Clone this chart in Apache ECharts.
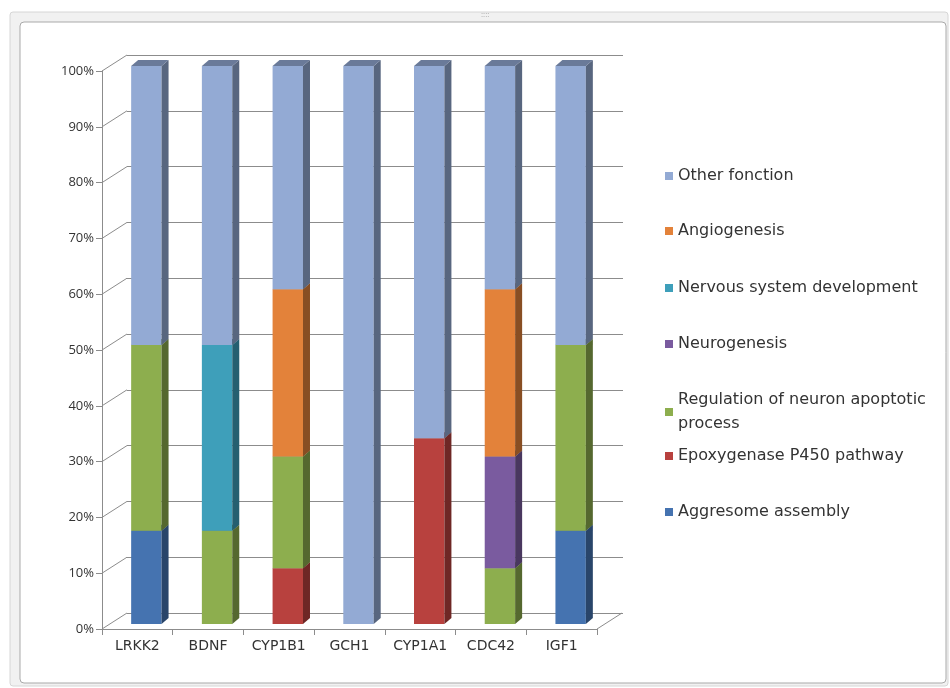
<!DOCTYPE html>
<html>
<head>
<meta charset="utf-8">
<script src="https://cdn.jsdelivr.net/npm/echarts@6/dist/echarts.min.js"></script>
<style>
html, body { margin: 0; background: #fff; }
#chart { width: 950px; height: 688px; }
</style>
</head>
<body>
<div id="chart"></div>
<script>
const genes = ['LRKK2', 'BDNF', 'CYP1B1', 'GCH1', 'CYP1A1', 'CDC42', 'IGF1'];

// percentages per gene, bottom of the stack first
const aggresome = [16.7, 0, 0, 0, 0, 0, 16.7];
const epoxygenase = [0, 0, 10, 0, 33.3, 0, 0];
const regulation = [33.3, 16.7, 20, 0, 0, 10, 33.3];
const neurogenesis = [0, 0, 0, 0, 0, 20, 0];
const nervous = [0, 33.3, 0, 0, 0, 0, 0];
const angiogenesis = [0, 0, 30, 0, 0, 30, 0];
const other = [50, 50, 40, 100, 66.7, 40, 50];

const seriesNames = [
    'Aggresome assembly',
    'Epoxygenase P450 pathway',
    'Regulation of neuron apoptotic process',
    'Neurogenesis',
    'Nervous system development',
    'Angiogenesis',
    'Other fonction'
];
const seriesValues = [aggresome, epoxygenase, regulation, neurogenesis, nervous, angiogenesis, other];
const yTicks = [0, 10, 20, 30, 40, 50, 60, 70, 80, 90, 100];

const colors = ['#4573B0', '#B8413E', '#8DAE4E', '#7A5B9F', '#3E9FBA', '#E3823A', '#93AAD4'];
const FONT = 'Open Sans';
const WIDE_FONT = 'DejaVu Sans';

// fake 3d depth
const WALL_DX = 25, WALL_DY = -16;
const BAR_DX = 9, BAR_DY = -5;
const SIDE_DX = 7, SIDE_DY = -6;

const shade = (hex, k) => {
    const n = parseInt(hex.slice(1), 16);
    const r = Math.round(((n >> 16) & 255) * k);
    const g = Math.round(((n >> 8) & 255) * k);
    const b = Math.round((n & 255) * k);
    return 'rgb(' + r + ',' + g + ',' + b + ')';
};

const barRender = (s) => (params, api) => {
    const i = api.value(0);
    const lo = api.value(1);
    const hi = api.value(2);
    if (hi - lo <= 0) return null;
    const p0 = api.coord([i, lo]);
    const p1 = api.coord([i, hi]);
    const w = api.size([1, 0])[0] * 0.43;
    const xl = p0[0] + BAR_DX - w / 2;
    const xr = xl + w;
    const yb = p0[1] + BAR_DY;
    const yt = p1[1] + BAR_DY;
    const c = colors[s];
    return {
        type: 'group',
        children: [
            { type: 'rect', shape: { x: xl, y: yt, width: w, height: yb - yt }, style: { fill: c } },
            {
                type: 'polygon',
                shape: { points: [[xr, yb], [xr, yt], [xr + SIDE_DX, yt + SIDE_DY], [xr + SIDE_DX, yb + SIDE_DY]] },
                style: { fill: shade(c, 0.6) }
            },
            {
                type: 'polygon',
                shape: { points: [[xl, yt], [xr, yt], [xr + SIDE_DX, yt + SIDE_DY], [xl + SIDE_DX, yt + SIDE_DY]] },
                style: { fill: shade(c, 0.72) }
            }
        ]
    };
};

const bases = genes.map(() => 0);
const barSeries = seriesValues.map((vals, s) => {
    const data = vals.map((v, i) => {
        const d = [i, bases[i], bases[i] + v];
        bases[i] += v;
        return d;
    });
    return {
        type: 'custom',
        name: seriesNames[s],
        xAxisIndex: 0,
        yAxisIndex: 0,
        itemStyle: { color: colors[s] },
        encode: { x: 0, y: [1, 2] },
        renderItem: barRender(s),
        data: data
    };
});

// side-wall lines from the front axis to the back wall
const wallSeries = {
    type: 'custom',
    silent: true,
    xAxisIndex: 0,
    yAxisIndex: 0,
    encode: { x: 0, y: 1 },
    data: yTicks.map((v) => [0, v]),
    renderItem: (params, api) => {
        const v = api.value(1);
        const y = api.coord([0, v])[1];
        const x0 = params.coordSys.x;
        const st = { stroke: '#8c8c8c', lineWidth: 1 };
        const kids = [{ type: 'line', shape: { x1: x0, y1: y, x2: x0 + WALL_DX, y2: y + WALL_DY }, style: st }];
        if (v === 0) {
            const x1 = x0 + params.coordSys.width;
            kids.push({ type: 'line', shape: { x1: x1, y1: y, x2: x1 + WALL_DX, y2: y + WALL_DY }, style: st });
        }
        return { type: 'group', children: kids };
    }
};

const legendTops = [159, 214, 271, 327, 383, 439, 495];
const legendOrder = seriesNames.slice().reverse();

const option = {
    backgroundColor: '#fff',
    animation: false,
    textStyle: { fontFamily: FONT },
    graphic: [
        { type: 'rect', z: -10, silent: true, shape: { x: 10, y: 12, width: 938, height: 674, r: 3 }, style: { fill: '#f1f1f1', stroke: '#d6d6d6' } },
        { type: 'rect', z: -9, silent: true, shape: { x: 20, y: 22, width: 926, height: 661, r: 4 }, style: { fill: '#fff', stroke: '#a9a9a9' } },
        { type: 'text', z: -8, silent: true, left: 481, top: 11, style: { text: '::::', fill: '#aaa', fontSize: 8, fontFamily: FONT } }
    ],
    legend: legendOrder.map((name, k) => ({
        data: [name],
        orient: 'vertical',
        left: 660,
        top: legendTops[k],
        icon: 'rect',
        itemWidth: 8,
        itemHeight: 8,
        itemGap: 6,
        selectedMode: false,
        textStyle: { fontFamily: WIDE_FONT, fontSize: 16, color: '#333', lineHeight: 24 },
        formatter: (n) => n === 'Regulation of neuron apoptotic process' ? 'Regulation of neuron apoptotic\nprocess' : n
    })),
    grid: [
        { left: 102, top: 71, width: 495, height: 558 },
        { left: 127, top: 55, width: 496, height: 558 }
    ],
    xAxis: [
        {
            gridIndex: 0,
            type: 'category',
            data: genes,
            axisLine: { lineStyle: { color: '#8c8c8c' } },
            axisTick: { show: true, length: 6, lineStyle: { color: '#8c8c8c' } },
            axisLabel: { color: '#333', fontSize: 14, fontFamily: WIDE_FONT, margin: 10 }
        },
        { gridIndex: 1, type: 'value', show: false, min: 0, max: 1 }
    ],
    yAxis: [
        {
            gridIndex: 0,
            type: 'value',
            min: 0,
            max: 100,
            interval: 10,
            axisLine: { show: true, lineStyle: { color: '#8c8c8c' } },
            axisTick: { show: true, length: 6, lineStyle: { color: '#8c8c8c' } },
            axisLabel: { formatter: '{value}%', color: '#333', fontSize: 13, fontFamily: FONT, margin: 8 },
            splitLine: { show: false }
        },
        {
            gridIndex: 1,
            type: 'value',
            min: 0,
            max: 100,
            interval: 10,
            axisLine: { show: false },
            axisTick: { show: false },
            axisLabel: { show: false },
            splitLine: { show: true, lineStyle: { color: '#8c8c8c', width: 1 } }
        }
    ],
    series: [wallSeries].concat(barSeries)
};

const chart = echarts.init(document.getElementById('chart'));
chart.setOption(option);
</script>
</body>
</html>
